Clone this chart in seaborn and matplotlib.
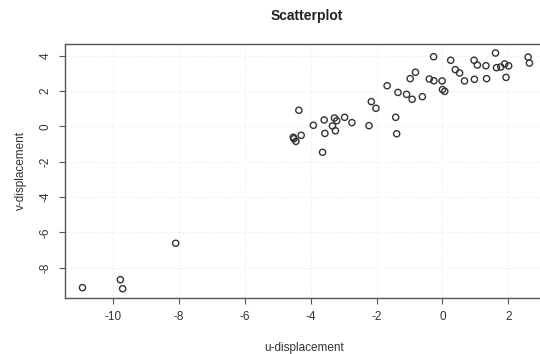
import seaborn as sns
import matplotlib.pyplot as plt
import pandas as pd

# displacement readings
u_disp = [-10.93, -9.78, -9.71, -8.10, -4.53, -4.51, -4.45, -4.36, -4.29, -3.92,
          -3.64, -3.59, -3.57, -3.34, -3.28, -3.25, -3.21, -2.97, -2.75, -2.23,
          -2.16, -2.02, -1.68, -1.42, -1.39, -1.35, -1.09, -0.98, -0.92, -0.82,
          -0.61, -0.40, -0.27, -0.26, -0.01, 0.00, 0.07, 0.25, 0.39, 0.52,
          0.67, 0.96, 0.97, 1.06, 1.32, 1.34, 1.61, 1.64, 1.77, 1.89,
          1.93, 2.01, 2.60, 2.64]
v_disp = [-9.13, -8.68, -9.19, -6.62, -0.62, -0.70, -0.85, 0.91, -0.51, 0.06,
          -1.47, 0.36, -0.40, 0.02, 0.47, -0.25, 0.32, 0.51, 0.21, 0.04,
          1.40, 1.02, 2.30, 0.51, -0.42, 1.92, 1.81, 2.70, 1.53, 3.06,
          1.68, 2.68, 3.94, 2.58, 2.57, 2.08, 1.98, 3.74, 3.21, 3.02,
          2.57, 3.74, 2.66, 3.47, 3.43, 2.70, 4.15, 3.32, 3.36, 3.53,
          2.77, 3.42, 3.92, 3.58]
x_ticks = [-10, -8, -6, -4, -2, 0, 2]
y_ticks = [-8, -6, -4, -2, 0, 2, 4]

df = pd.DataFrame({'u': u_disp, 'v': v_disp})

sns.set_style("white")
plt.rcParams['font.family'] = ['Liberation Sans', 'DejaVu Sans']
plt.rcParams['axes.unicode_minus'] = False

fig = plt.figure(figsize=(5.4, 3.54), dpi=100)
ax = fig.add_axes([0.1204, 0.159, 0.885, 0.7167])

sns.scatterplot(data=df, x='u', y='v', ax=ax, marker='o', s=20,
                facecolors='none', edgecolors='#333333', linewidth=1.0, zorder=3)

ax.set_xlim(-11.46, 3.05)
ax.set_ylim(-9.70, 4.66)
ax.set_xticks(x_ticks)
ax.set_yticks(y_ticks)
ax.grid(True, color='#ececec', linewidth=0.8, linestyle=':')

for s in ax.spines.values():
    s.set_color('#555555')
    s.set_linewidth(1.0)

ax.tick_params(axis='both', direction='out', length=4.5, width=0.8,
               color='#555555', labelsize=8.5, labelcolor='#333333',
               bottom=True, left=True, pad=5)
for lab in ax.get_yticklabels():
    lab.set_rotation(90)
    lab.set_va('center')

ax.set_xlabel('u-displacement', fontsize=8.5, color='#333333', labelpad=14)
ax.set_ylabel('v-displacement', fontsize=8.5, color='#333333', labelpad=9)
fig.text(0.569, 1 - 15.7 / 354, 'Scatterplot', fontsize=10, fontweight='bold',
         color='#222222', ha='center', va='center')

fig.savefig('out.png', dpi=100)
